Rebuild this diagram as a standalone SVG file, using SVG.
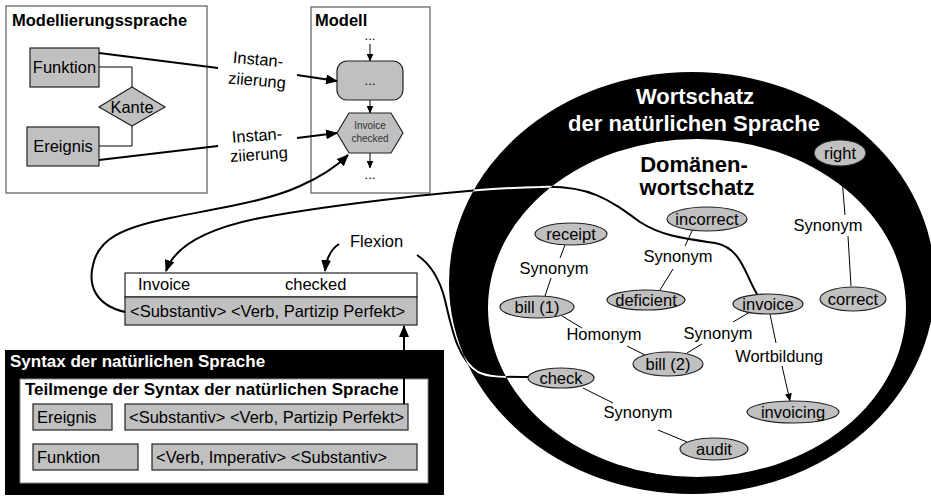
<svg xmlns="http://www.w3.org/2000/svg" width="931" height="496" viewBox="0 0 931 496">
<style>
.t{font-family:"Liberation Sans",Arial,Helvetica,sans-serif;font-size:16.5px;fill:#000}
.b{font-weight:bold}
.w{fill:#fff}
.m{text-anchor:middle}
.gray{fill:#c0c0c0;stroke:#222;stroke-width:1.2}
.frame{fill:#fff;stroke:#666;stroke-width:1.3}
.conn{fill:none;stroke:#000;stroke-width:2}
.thin{fill:none;stroke:#000;stroke-width:1}
.wl{fill:none;stroke:#fff;stroke-width:2}
</style>
<defs>
<marker id="ah" markerWidth="12" markerHeight="10" refX="11" refY="5" orient="auto" markerUnits="userSpaceOnUse"><path d="M0,0 L12,5 L0,10 z" fill="#000"/></marker>
<marker id="ahs" markerWidth="8" markerHeight="7" refX="7.5" refY="3.5" orient="auto" markerUnits="userSpaceOnUse"><path d="M0,0 L8,3.5 L0,7 z" fill="#000"/></marker>
<clipPath id="ringclip"><path clip-rule="evenodd" d="M449,283 a243,211 0 1,0 486,0 a243,211 0 1,0 -486,0 Z M488,308 a209,169 0 1,0 418,0 a209,169 0 1,0 -418,0 Z"/></clipPath>
</defs>

<g id="wortschatz">
<ellipse cx="692" cy="283" rx="243" ry="211" fill="#000"/>
<ellipse cx="697" cy="308" rx="209" ry="169" fill="#fff"/>
<text class="t b w m" x="695" y="104" style="font-size:22px">Wortschatz</text>
<text class="t b w m" x="694" y="131" style="font-size:22px">der natürlichen Sprache</text>
</g>
<g id="domaenenwortschatz">
<text class="t b m" x="694" y="172" style="font-size:22px">Domänen-</text>
<text class="t b m" x="697" y="195" style="font-size:22px">wortschatz</text>
</g>

<g id="modellierungssprache">
<rect class="frame" x="6" y="6" width="201" height="187"/>
<text class="t b" x="12" y="26">Modellierungssprache</text>
</g>
<g id="funktion">
<rect class="gray" x="30" y="48" width="69" height="39"/>
<text class="t m" x="64.5" y="73">Funktion</text>
</g>
<g id="ereignis">
<rect class="gray" x="27" y="127" width="72" height="39"/>
<text class="t m" x="63" y="152">Ereignis</text>
</g>
<g id="kante">
<polygon class="gray" points="132,87 165,107 132,126 99,107"/>
<text class="t m" x="132" y="113">Kante</text>
</g>

<g id="modell">
<rect class="frame" x="311" y="7" width="119" height="186"/>
<text class="t b" x="315" y="26">Modell</text>
<text class="t m" x="370" y="40" style="font-size:13px">...</text>
<text class="t m" x="370" y="179" style="font-size:13px">...</text>
</g>
<g id="modell-step">
<rect class="gray" x="337" y="61" width="66" height="39" rx="10" ry="10"/>
<text class="t m" x="370" y="85" style="font-size:13px">...</text>
</g>
<g id="modell-event">
<polygon class="gray" points="349,113 391,113 403,133 391,153 349,153 337,133"/>
<text class="t m" x="370" y="129" style="font-size:10px;fill:#333">Invoice</text>
<text class="t m" x="370" y="142" style="font-size:10px;fill:#333">checked</text>
</g>

<g id="satz">
<rect x="125" y="273" width="292" height="24" fill="#fff" stroke="#222" stroke-width="1.2"/>
<rect class="gray" x="125" y="297" width="292" height="28"/>
<text class="t" x="138" y="290">Invoice</text>
<text class="t" x="285" y="290">checked</text>
<text class="t" x="130" y="317">&lt;Substantiv&gt; &lt;Verb, Partizip Perfekt&gt;</text>
</g>

<g id="syntax">
<rect x="5" y="350" width="439" height="145" fill="#000"/>
<text class="t b w" x="10" y="367" style="font-size:17px">Syntax der natürlichen Sprache</text>
<rect x="20" y="379" width="408" height="104" fill="#fff" stroke="#888" stroke-width="1"/>
<text class="t b" x="25" y="395" style="font-size:17px">Teilmenge der Syntax der natürlichen Sprache</text>
</g>
<g id="syntax-ereignis">
<rect class="gray" x="33" y="404" width="79" height="26"/>
<text class="t" x="37" y="423">Ereignis</text>
</g>
<g id="syntax-ereignis-muster">
<rect class="gray" x="125" y="404" width="283" height="26"/>
<text class="t" x="129" y="423">&lt;Substantiv&gt; &lt;Verb, Partizip Perfekt&gt;</text>
</g>
<g id="syntax-funktion">
<rect class="gray" x="33" y="444" width="105" height="26"/>
<text class="t" x="37" y="463">Funktion</text>
</g>
<g id="syntax-funktion-muster">
<rect class="gray" x="152" y="444" width="265" height="26"/>
<text class="t" x="156" y="463">&lt;Verb, Imperativ&gt; &lt;Substantiv&gt;</text>
</g>

<g id="connectors">
<polyline class="thin" points="99,67 132,67 132,87"/>
<polyline class="thin" points="132,126 132,146 99,146"/>
<line class="conn" x1="99" y1="53" x2="218" y2="68"/>
<line class="conn" x1="297" y1="75" x2="337" y2="81" marker-end="url(#ah)"/>
<line class="conn" x1="99" y1="160" x2="218" y2="146"/>
<line class="conn" x1="297" y1="138" x2="337" y2="133" marker-end="url(#ah)"/>
<line class="thin" x1="370" y1="44" x2="370" y2="61" marker-end="url(#ahs)"/>
<line class="thin" x1="370" y1="100" x2="370" y2="113" marker-end="url(#ahs)"/>
<line class="thin" x1="370" y1="153" x2="370" y2="168" marker-end="url(#ahs)"/>
<path class="conn" d="M125,312 C95,305 88,285 93,265 C98,240 120,228 170,218 C230,206 270,200 300,186 C325,175 338,165 348,155" marker-end="url(#ah)"/>
<path class="conn" d="M757,294 C745,275 742,248 715,243 C680,238 660,235 640,222 C610,200 590,185 540,187 C470,188 330,205 260,218 C210,228 175,245 166,271" marker-end="url(#ah)"/>
<path class="conn" d="M339,244 Q327,252 325,271" marker-end="url(#ah)"/>
<path class="conn" d="M417,255 C432,265 440,280 445,300 C452,330 458,360 478,372 C488,377 500,377 528,377"/>
<g clip-path="url(#ringclip)">
<path class="wl" d="M757,294 C745,275 742,248 715,243 C680,238 660,235 640,222 C610,200 590,185 540,187 C470,188 330,205 260,218"/>
<path class="wl" d="M417,255 C432,265 440,280 445,300 C452,330 458,360 478,372 C488,377 500,377 528,377"/>
</g>
<line class="conn" x1="404" y1="404" x2="404" y2="326" marker-end="url(#ah)"/>
<line class="thin" x1="565" y1="245" x2="560" y2="258"/>
<line class="thin" x1="551" y1="278" x2="545" y2="296"/>
<line class="thin" x1="692" y1="231" x2="685" y2="246"/>
<line class="thin" x1="673" y1="269" x2="660" y2="290"/>
<line class="thin" x1="841" y1="166" x2="845" y2="215"/>
<line class="thin" x1="848" y1="236" x2="851" y2="286"/>
<line class="thin" x1="562" y1="316" x2="582" y2="328"/>
<line class="thin" x1="627" y1="346" x2="645" y2="355"/>
<line class="thin" x1="750" y1="312" x2="733" y2="322"/>
<line class="thin" x1="702" y1="344" x2="687" y2="353"/>
<line class="thin" x1="770" y1="314" x2="776" y2="343"/>
<line class="thin" x1="782" y1="366" x2="790" y2="401" marker-end="url(#ahs)"/>
<line class="thin" x1="583" y1="388" x2="613" y2="403"/>
<line class="thin" x1="658" y1="430" x2="687" y2="442"/>
</g>

<g id="receipt"><ellipse class="gray" cx="571" cy="234" rx="36" ry="11"/><text class="t m" x="571" y="240">receipt</text></g>
<g id="incorrect"><ellipse class="gray" cx="707" cy="219" rx="40" ry="12"/><text class="t m" x="707" y="225">incorrect</text></g>
<g id="right"><ellipse class="gray" cx="840" cy="153" rx="26" ry="13"/><text class="t m" x="840" y="159">right</text></g>
<g id="bill1"><ellipse class="gray" cx="537" cy="307" rx="37" ry="11"/><text class="t m" x="537" y="313">bill (1)</text></g>
<g id="deficient"><ellipse class="gray" cx="646" cy="300" rx="39" ry="10"/><text class="t m" x="646" y="306">deficient</text></g>
<g id="invoice"><ellipse class="gray" cx="768" cy="304" rx="35" ry="10"/><text class="t m" x="768" y="310">invoice</text></g>
<g id="correct"><ellipse class="gray" cx="853" cy="299" rx="33" ry="12"/><text class="t m" x="853" y="305">correct</text></g>
<g id="bill2"><ellipse class="gray" cx="668" cy="364" rx="35" ry="12"/><text class="t m" x="668" y="370">bill (2)</text></g>
<g id="check"><ellipse class="gray" cx="561" cy="378" rx="33" ry="10"/><text class="t m" x="561" y="384">check</text></g>
<g id="invoicing"><ellipse class="gray" cx="793" cy="412" rx="46" ry="11"/><text class="t m" x="793" y="418">invoicing</text></g>
<g id="audit"><ellipse class="gray" cx="714" cy="449" rx="34" ry="11"/><text class="t m" x="714" y="455">audit</text></g>

<g id="labels">
<text class="t m" x="258" y="65" transform="rotate(5 258 60)">Instan-</text>
<text class="t m" x="257" y="86" transform="rotate(5 257 81)">ziierung</text>
<text class="t m" x="257" y="141" transform="rotate(-4 257 136)">Instan-</text>
<text class="t m" x="259" y="160" transform="rotate(-4 259 155)">ziierung</text>
<text class="t" x="350" y="247">Flexion</text>
<text class="t m" x="554" y="274">Synonym</text>
<text class="t m" x="678" y="262">Synonym</text>
<text class="t m" x="828" y="231">Synonym</text>
<text class="t m" x="604" y="340">Homonym</text>
<text class="t m" x="718" y="339">Synonym</text>
<text class="t m" x="779" y="362">Wortbildung</text>
<text class="t m" x="638" y="418">Synonym</text>
</g>
</svg>
